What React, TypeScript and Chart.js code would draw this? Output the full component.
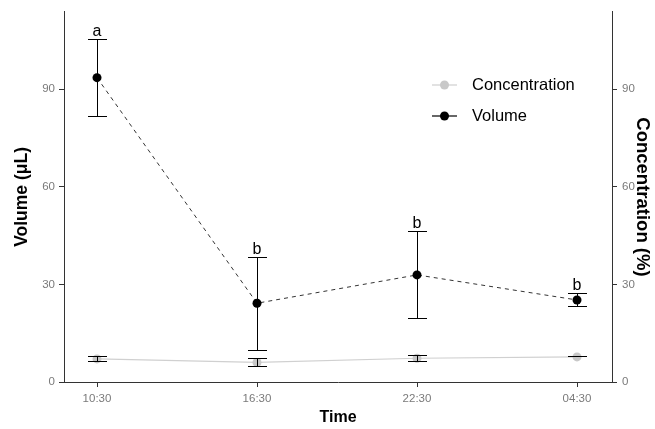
import React, { useEffect, useRef } from 'react';
import { Chart, registerables } from 'chart.js';
Chart.register(...registerables);

const categories = ['10:30', '16:30', '22:30', '04:30'];
const volumeMean = [93.5, 24.2, 32.9, 25.2];
const volumeUpper = [105.3, 38.3, 46.3, 27.3];
const volumeLower = [81.8, 9.9, 19.8, 23.2];
const concMean = [7.1, 6.0, 7.3, 7.7];
const concUpper = [8.0, 7.4, 8.2, 7.9];
const concLower = [6.4, 4.8, 6.3, 7.9];
const letters = ['a', 'b', 'b', 'b'];
const yTicks = [0, 30, 60, 90];
const seriesNames = ['Concentration', 'Volume'];

const FONT = '"Liberation Sans", Arial, Helvetica, sans-serif';

const overlay = {
  id: 'overlay',
  afterDatasetsDraw(chart: any) {
    const ctx = chart.ctx;
    const xs = chart.scales.x;
    const ys = chart.scales.y;
    ctx.save();
    ctx.strokeStyle = '#000';
    ctx.lineWidth = 1;
    const half = 9.5;
    const bars = (lo: number[], hi: number[]) => {
      for (let i = 0; i < categories.length; i++) {
        const px = Math.round(xs.getPixelForValue(i)) + 0.5;
        const yl = Math.round(ys.getPixelForValue(lo[i])) + 0.5;
        const yh = Math.round(ys.getPixelForValue(hi[i])) + 0.5;
        ctx.beginPath();
        ctx.moveTo(px, yl);
        ctx.lineTo(px, yh);
        ctx.moveTo(px - half, yh);
        ctx.lineTo(px + half, yh);
        ctx.moveTo(px - half, yl);
        ctx.lineTo(px + half, yl);
        ctx.stroke();
      }
    };
    bars(concLower, concUpper);
    bars(volumeLower, volumeUpper);
    ctx.fillStyle = '#000';
    ctx.font = `16px ${FONT}`;
    ctx.textAlign = 'center';
    ctx.textBaseline = 'alphabetic';
    for (let i = 0; i < categories.length; i++) {
      const px = xs.getPixelForValue(i);
      const yh = ys.getPixelForValue(volumeUpper[i]);
      ctx.fillText(letters[i], px, yh - 3);
    }
    ctx.restore();
  },
  afterDraw(chart: any) {
    const ctx = chart.ctx;
    const area = chart.chartArea;
    const cy = (area.top + area.bottom) / 2;
    const cx = (area.left + area.right) / 2;
    ctx.save();
    ctx.fillStyle = '#000';
    ctx.textAlign = 'center';
    ctx.textBaseline = 'middle';
    // left title
    ctx.save();
    ctx.translate(22, cy);
    ctx.rotate(-Math.PI / 2);
    ctx.font = `bold 17.5px ${FONT}`;
    ctx.fillText('Volume (μL)', 0, 0);
    ctx.restore();
    // right title
    ctx.save();
    ctx.translate(642, cy);
    ctx.rotate(Math.PI / 2);
    ctx.font = `bold 18.5px ${FONT}`;
    ctx.fillText('Concentration (%)', 0, 0);
    ctx.restore();
    // bottom title
    ctx.font = `bold 16px ${FONT}`;
    ctx.fillText('Time', cx, 418);
    // legend
    const entries = [
      { name: seriesNames[0], color: '#c8c8c8', line: '#cfcfcf', y: 85 },
      { name: seriesNames[1], color: '#000', line: '#000', y: 116 },
    ];
    ctx.textAlign = 'left';
    ctx.font = `16.5px ${FONT}`;
    for (const e of entries) {
      ctx.strokeStyle = e.line;
      ctx.lineWidth = 1.2;
      ctx.beginPath();
      ctx.moveTo(432, e.y);
      ctx.lineTo(457, e.y);
      ctx.stroke();
      ctx.fillStyle = e.color;
      ctx.beginPath();
      ctx.arc(444.5, e.y, 4.5, 0, Math.PI * 2);
      ctx.fill();
      ctx.fillStyle = '#000';
      ctx.fillText(e.name, 472, e.y);
    }
    ctx.restore();
  },
};

export default function App() {
  const ref = useRef<HTMLCanvasElement>(null);
  useEffect(() => {
    if (!ref.current) return;
    const yMax = 113.7;
    const tickColor = '#7a7a7a';
    const axisColor = '#333';
    const chart = new Chart(ref.current, {
      type: 'line',
      data: {
        datasets: [
          {
            label: seriesNames[0],
            data: concMean.map((v, i) => ({ x: i, y: v })),
            borderColor: '#d0d0d0',
            borderWidth: 1.2,
            pointBackgroundColor: '#c8c8c8',
            pointBorderWidth: 0,
            pointRadius: 4.5,
            yAxisID: 'y',
          },
          {
            label: seriesNames[1],
            data: volumeMean.map((v, i) => ({ x: i, y: v })),
            borderColor: '#333',
            borderWidth: 1,
            borderDash: [4, 4],
            pointBackgroundColor: '#000',
            pointBorderWidth: 0,
            pointRadius: 4.5,
            yAxisID: 'y',
          },
        ],
      },
      options: {
        responsive: false,
        animation: false,
        devicePixelRatio: 1,
        layout: { padding: { top: 10, left: 0, right: 0, bottom: 0 }, autoPadding: false },
        plugins: { legend: { display: false }, tooltip: { enabled: false } },
        scales: {
          x: {
            type: 'linear',
            min: -0.20625,
            max: 3.21875,
            afterBuildTicks: (s: any) => {
              s.ticks = categories.map((_, i) => ({ value: i }));
            },
            afterFit: (s: any) => {
              s.height = 47;
            },
            ticks: {
              callback: (v: any) => categories[v as number] ?? '',
              color: tickColor,
              font: { family: FONT, size: 11.5 },
              padding: 5,
              maxRotation: 0,
              autoSkip: false,
            },
            grid: { drawOnChartArea: false, drawTicks: true, tickLength: 5, color: axisColor },
            border: { display: true, color: axisColor, width: 1 },
          },
          y: {
            type: 'linear',
            position: 'left',
            min: 0,
            max: yMax,
            afterBuildTicks: (s: any) => {
              s.ticks = yTicks.map((v) => ({ value: v }));
            },
            afterFit: (s: any) => {
              s.width = 64;
            },
            ticks: { color: tickColor, font: { family: FONT, size: 11.5 }, padding: 4 },
            grid: { drawOnChartArea: false, drawTicks: true, tickLength: 5, color: axisColor },
            border: { display: true, color: axisColor, width: 1 },
          },
          y2: {
            type: 'linear',
            position: 'right',
            min: 0,
            max: yMax,
            afterBuildTicks: (s: any) => {
              s.ticks = yTicks.map((v) => ({ value: v }));
            },
            afterFit: (s: any) => {
              s.width = 43;
            },
            ticks: { color: tickColor, font: { family: FONT, size: 11.5 }, padding: 5 },
            grid: { drawOnChartArea: false, drawTicks: true, tickLength: 5, color: axisColor },
            border: { display: true, color: axisColor, width: 1 },
          },
        },
      },
      plugins: [overlay],
    } as any);
    return () => chart.destroy();
  }, []);
  return (
    <div style={{ position: 'fixed', left: 0, top: 0, width: 655, height: 429, background: '#fff' }}>
      <canvas ref={ref} width={655} height={429} />
    </div>
  );
}
